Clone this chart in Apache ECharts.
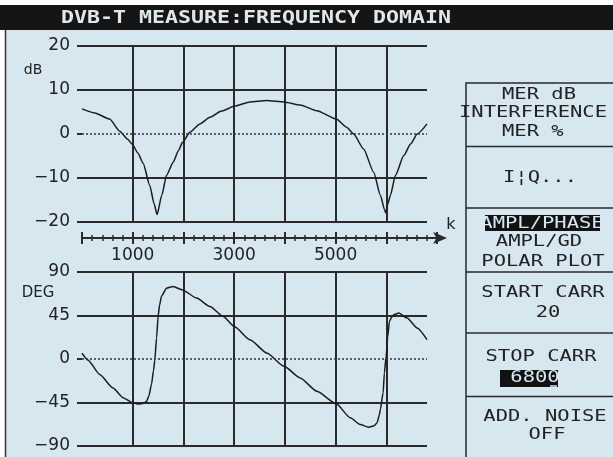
<!DOCTYPE html>
<html>
<head>
<meta charset="utf-8">
<script src="https://cdn.jsdelivr.net/npm/echarts@6/dist/echarts.min.js"></script>
<style>
  html, body { margin: 0; padding: 0; background: #fff; }
  #chart { width: 613px; height: 457px; }
</style>
</head>
<body>
<div id="chart"></div>
<script>
// ---- data ----
const ampCarrier = [0, 250, 545, 743, 900, 994, 1100, 1204, 1336, 1420, 1480, 1573, 1666, 1797, 1900, 1982, 2126, 2324, 2522, 2750, 3002, 3312, 3642, 3984, 4300, 4630, 5012, 5223, 5354, 5551, 5749, 5881, 5966, 5985, 6030, 6079, 6178, 6342, 6480, 6607, 6800];
const ampDb = [5.7, 4.8, 3.4, 0.6, -1.2, -2.4, -4.3, -6.6, -11.7, -15.8, -18.3, -13.9, -9.4, -6.4, -3.8, -1.9, 0.4, 2.3, 3.8, 5.2, 6.3, 7.3, 7.6, 7.3, 6.6, 5.3, 3.4, 1.5, 0, -3.4, -8.7, -13.9, -17.3, -17.9, -15.8, -13.9, -9.4, -4.9, -2.2, 0, 2.3];

const phaseCarrier = [0, 117, 348, 611, 808, 994, 1100, 1204, 1270, 1320, 1370, 1410, 1435, 1470, 1500, 1530, 1567, 1666, 1797, 1982, 2259, 2522, 2785, 3002, 3312, 3642, 3984, 4300, 4630, 5012, 5289, 5486, 5650, 5760, 5816, 5860, 5881, 5935, 5960, 5994, 6026, 6059, 6100, 6144, 6243, 6409, 6607, 6800];
const phaseDeg = [6, -1, -16, -30, -40, -45, -46.5, -46, -44, -38, -26, -12, -1, 22, 44, 56, 65, 73.3, 75, 71.5, 63, 54.3, 44, 33.6, 19.9, 6.2, -7.6, -19.6, -33.4, -46.4, -60.9, -67.8, -70.6, -69, -66, -58, -52, -35, -14.4, 2.7, 23.3, 38.8, 43, 45.7, 47.5, 42.3, 32, 20];

const carrierLabels = [1000, 3000, 5000];
const dbTicks = [-20, -10, 0, 10, 20];
const degTicks = [-90, -45, 0, 45, 90];
const startCarr = 20;
const stopCarr = 6800;

const titleText = 'DVB-T MEASURE:FREQUENCY DOMAIN';

// ---- chart ----
const chart = echarts.init(document.getElementById('chart'), null, { renderer: 'canvas' });

const LINE = '#2a2a2a';
const BG = '#d6e7f0';
const pair = (xs, ys) => xs.map((x, i) => [x, ys[i]]);

function splitColors(ticks) {
  return ticks.map(v => v === 0 ? 'rgba(0,0,0,0)' : LINE);
}
const minusFmt = v => String(v).replace('-', '\u2212');

const yAxisCommon = {
  type: 'value',
  axisLine: { show: false },
  axisTick: { show: true, length: 5, lineStyle: { color: LINE, width: 2 } },
  axisLabel: { margin: 12, fontFamily: 'DejaVu Sans', fontSize: 17, color: '#222', formatter: minusFmt },
  splitLine: { show: true }
};

const xPlotCommon = {
  type: 'value', min: 0, max: stopCarr, interval: 1000,
  axisLine: { show: false }, axisTick: { show: false }, axisLabel: { show: false },
  splitLine: { show: true, showMinLine: false, showMaxLine: false, lineStyle: { color: LINE, width: 2 } }
};

const zeroMark = {
  silent: true, symbol: 'none', label: { show: false },
  lineStyle: { color: '#333', type: [2, 2], width: 1.5 },
  data: [{ yAxis: 0 }]
};

const panelFont = '16px "DejaVu Sans Mono"';
const SX = 1.28;
function ptext(txt, x, y, opts) {
  opts = opts || {};
  return {
    type: 'text', x: x, y: y, scaleX: opts.sx || SX, z: 10,
    style: {
      text: txt, font: opts.font || panelFont, fill: opts.fill || '#222',
      align: opts.align || 'center', verticalAlign: 'middle'
    }
  };
}
function hline(x1, x2, y) {
  return { type: 'line', z: 5, shape: { x1: x1, y1: y, x2: x2, y2: y }, style: { stroke: LINE, lineWidth: 1.5 } };
}

const option = {
  backgroundColor: BG,
  animation: false,
  grid: [
    { left: 82, top: 46, width: 345, height: 176 },
    { left: 82, top: 272, width: 345, height: 174 },
    { left: 82, top: 200, width: 355, height: 38 }
  ],
  xAxis: [
    Object.assign({ gridIndex: 0 }, xPlotCommon),
    Object.assign({ gridIndex: 1 }, xPlotCommon),
    {
      gridIndex: 2, type: 'value', min: 0, max: 7000, interval: 1000, position: 'bottom',
      axisLine: { show: true, symbol: ['none', 'arrow'], symbolSize: [9, 14], symbolOffset: [0, 10], lineStyle: { color: LINE, width: 2 } },
      axisTick: { show: true, inside: false, length: 6, lineStyle: { color: LINE, width: 2 } },
      minorTick: { show: true, splitNumber: 5, length: 3, lineStyle: { color: LINE, width: 1.5 } },
      splitLine: { show: false },
      axisLabel: {
        margin: 9, fontFamily: 'DejaVu Sans', fontSize: 17, color: '#222',
        formatter: v => carrierLabels.indexOf(v) >= 0 ? String(v) : ''
      }
    },
    {
      gridIndex: 2, type: 'value', min: 0, max: 7000, interval: 1000, position: 'bottom',
      axisLine: { show: false },
      axisTick: { show: true, inside: true, length: 6, lineStyle: { color: LINE, width: 2 } },
      minorTick: { show: true, splitNumber: 5, length: 3, lineStyle: { color: LINE, width: 1.5 } },
      splitLine: { show: false },
      axisLabel: { show: false }
    }
  ],
  yAxis: [
    Object.assign({}, yAxisCommon, {
      gridIndex: 0, min: -20, max: 20, interval: 10,
      splitLine: { show: true, lineStyle: { color: splitColors(dbTicks), width: 2 } }
    }),
    Object.assign({}, yAxisCommon, {
      gridIndex: 1, min: -90, max: 90, interval: 45,
      splitLine: { show: true, lineStyle: { color: splitColors(degTicks), width: 2 } }
    }),
    { gridIndex: 2, type: 'value', min: 0, max: 1, show: false }
  ],
  series: [
    {
      type: 'line', xAxisIndex: 0, yAxisIndex: 0, data: pair(ampCarrier, ampDb),
      showSymbol: false, smooth: 0.2, smoothMonotone: 'x', lineStyle: { color: '#1c1c1c', width: 1.5 },
      markLine: zeroMark, z: 3
    },
    {
      type: 'line', xAxisIndex: 1, yAxisIndex: 1, data: pair(phaseCarrier, phaseDeg),
      showSymbol: false, smooth: 0.2, smoothMonotone: 'x', lineStyle: { color: '#1c1c1c', width: 1.5 },
      markLine: zeroMark, z: 3
    },
    { type: 'line', xAxisIndex: 2, yAxisIndex: 2, data: [], silent: true }
  ],
  graphic: [
    // frame
    { type: 'rect', z: 5, shape: { x: 0, y: 0, width: 613, height: 5 }, style: { fill: '#fff' } },
    { type: 'rect', z: 5, shape: { x: 0, y: 0, width: 5, height: 457 }, style: { fill: '#fff' } },
    { type: 'rect', z: 6, shape: { x: 0, y: 5, width: 613, height: 25 }, style: { fill: '#151515' } },
    { type: 'line', z: 6, shape: { x1: 5.5, y1: 30, x2: 5.5, y2: 457 }, style: { stroke: '#333', lineWidth: 1.5 } },
    ptext(titleText, 256, 18, { font: 'bold 18px "DejaVu Sans Mono"', fill: '#dfe7eb', sx: 1.2 }),
    // axis names
    ptext('dB', 33, 70, { font: '14px "DejaVu Sans"', sx: 1 }),
    ptext('DEG', 38, 293, { font: '15px "DejaVu Sans"', sx: 1 }),
    ptext('k', 451, 225, { font: '16px "DejaVu Sans"', sx: 1 }),
    // side panel
    { type: 'rect', z: 5, shape: { x: 466, y: 83, width: 160, height: 400 }, style: { fill: 'none', stroke: LINE, lineWidth: 1.5 } },
    hline(466, 613, 146.5), hline(466, 613, 208), hline(466, 613, 272),
    hline(466, 613, 333), hline(466, 613, 396.5),
    ptext('MER dB', 502, 95, { align: 'left' }),
    ptext('INTERFERENCE', 533, 113),
    ptext('MER %', 502, 132, { align: 'left' }),
    ptext('I\u00a6Q...', 540, 178),
    { type: 'rect', z: 8, shape: { x: 485, y: 215, width: 115, height: 16 }, style: { fill: '#121212' } },
    ptext('AMPL/PHASE', 542, 223.5, { fill: BG }),
    ptext('AMPL/GD', 539, 242),
    ptext('POLAR PLOT', 543, 262),
    ptext('START CARR', 543, 293),
    ptext(String(startCarr), 548, 313),
    ptext('STOP CARR', 541, 357),
    { type: 'rect', z: 8, shape: { x: 500, y: 370, width: 58, height: 17 }, style: { fill: '#121212' } },
    ptext(String(stopCarr), 535, 378, { fill: BG }),
    { type: 'line', z: 11, shape: { x1: 550, y1: 386, x2: 557, y2: 386 }, style: { stroke: BG, lineWidth: 1.5 } },
    ptext('ADD. NOISE', 545, 417),
    ptext('OFF', 547, 435)
  ]
};

chart.setOption(option);
</script>
</body>
</html>
